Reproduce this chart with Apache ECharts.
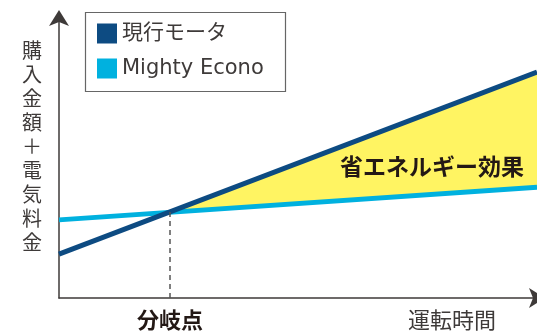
<!DOCTYPE html>
<html><head><meta charset="utf-8">
<script src="https://cdn.jsdelivr.net/npm/echarts@6/dist/echarts.min.js"></script>
<style>html,body{margin:0;padding:0;background:#fff}#c{width:537px;height:333px}</style>
</head><body><div id="c"></div>
<script>
// Data (arbitrary units)
const seriesNames = ['現行モータ', 'Mighty Econo'];
const currentMotor = [[0, 15.7], [100, 80.7]];
const mightyEcono = [[0, 27.9], [100, 39.6]];
const breakEven = [23.2, 30.7];
const yAxisTitle = ['購', '入', '金', '額', '＋', '電', '気', '料', '金'];
const breakLabel = '分岐点';
const xAxisTitle = '運転時間';
const effectLabel = '省エネルギー効果';

const DARK = '#0d4b82', LIGHT = '#00b1df', YELLOW = '#fff462', AXIS = '#3e3a39';
const FONT = '"Noto Sans CJK JP", "Noto Sans", sans-serif';

const chart = echarts.init(document.getElementById('c'));
chart.setOption({
  animation: false,
  grid: { left: 59, right: 0, top: 18, bottom: 35 },
  xAxis: { type: 'value', min: 0, max: 100, splitLine: { show: false },
    axisTick: { show: false }, axisLabel: { show: false },
    axisLine: { onZero: false, symbol: ['none', 'arrow'], symbolSize: [15, 16], symbolOffset: [0, 8], lineStyle: { color: AXIS, width: 1.5 } } },
  yAxis: { type: 'value', min: 0, max: 100, splitLine: { show: false },
    axisTick: { show: false }, axisLabel: { show: false },
    axisLine: { show: true, onZero: false, symbol: ['none', 'arrow'], symbolSize: [15, 16], symbolOffset: [0, 8], lineStyle: { color: AXIS, width: 1.5 } } },
  legend: {
    left: 83, top: 10, orient: 'vertical', padding: [13, 14, 12, 14], itemGap: 14,
    itemWidth: 20, itemHeight: 20, icon: 'rect',
    textStyle: { fontSize: 21, color: AXIS, fontFamily: '"DejaVu Sans", "Noto Sans CJK JP", sans-serif' },
    data: seriesNames
  },
  series: [
    { type: 'custom', z: 1, silent: true, data: [0],
      renderItem: function (params, api) {
        const pts = [breakEven, currentMotor[1], mightyEcono[1]].map(p => api.coord(p));
        return { type: 'polygon', shape: { points: pts }, style: { fill: YELLOW } };
      } },
    { name: seriesNames[1], type: 'line', z: 3, data: mightyEcono, showSymbol: false,
      color: LIGHT, lineStyle: { color: LIGHT, width: 5 },
      markLine: { silent: true, symbol: 'none', label: { show: false },
        lineStyle: { color: '#555', width: 1.5, type: [5, 4] },
        data: [[{ coord: [breakEven[0], 0] }, { coord: breakEven }]] } },
    { name: seriesNames[0], type: 'line', z: 4, data: currentMotor, showSymbol: false,
      color: DARK, lineStyle: { color: DARK, width: 5 } }
  ],
  graphic: [
    { type: 'rect', left: 83, top: 10, z: 0,
      shape: { width: 200, height: 79 }, style: { fill: 'none', stroke: '#666', lineWidth: 1.2 } },
    { type: 'text', x: 32, y: 38, style: { text: yAxisTitle.join('\n'), fontSize: 20, lineHeight: 24,
      fill: AXIS, fontFamily: FONT, align: 'center', verticalAlign: 'top' } },
    { type: 'text', x: 170, y: 320, style: { text: breakLabel, fontSize: 22, fontWeight: 'bold',
      fill: '#231815', fontFamily: FONT, align: 'center', verticalAlign: 'middle' } },
    { type: 'text', x: 452, y: 320, style: { text: xAxisTitle, fontSize: 22,
      fill: AXIS, fontFamily: FONT, align: 'center', verticalAlign: 'middle' } },
    { type: 'text', x: 432, y: 166, z: 10, style: { text: effectLabel, fontSize: 23, fontWeight: 'bold',
      fill: '#231815', fontFamily: FONT, align: 'center', verticalAlign: 'middle' } }
  ]
});
</script></body></html>
